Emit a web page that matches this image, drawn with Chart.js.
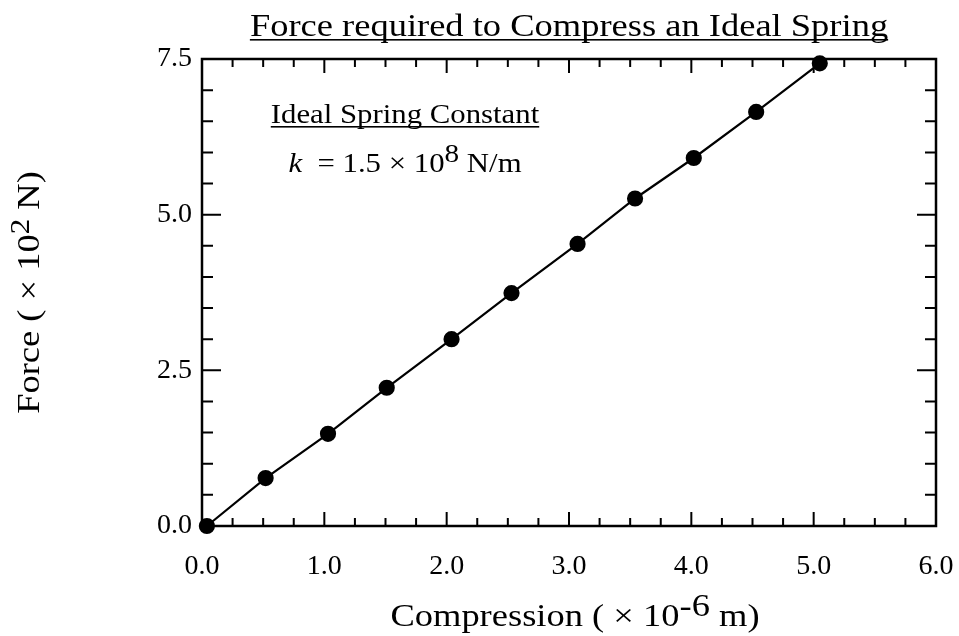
<!DOCTYPE html>
<html>
<head>
<meta charset="utf-8">
<title>Force required to Compress an Ideal Spring</title>
<script src="https://cdn.jsdelivr.net/npm/chart.js@4.4.1/dist/chart.umd.min.js"></script>
<style>
  html, body { margin: 0; padding: 0; background: #fff; }
  #wrap { width: 959px; height: 636px; position: relative; }
  #aquece { position: absolute; left: -9999px; top: 0; font-family: "Liberation Serif"; font-size: 20px; }
</style>
</head>
<body>
<div id="aquece">Force <i>k</i> 0.0</div>
<div id="wrap"><canvas id="chartMola"></canvas></div>
<script>
// Dados (compressão em 1e-6 m, força em 1e2 N)
const compressao = [0.04, 0.52, 1.03, 1.51, 2.04, 2.53, 3.07, 3.54, 4.02, 4.53, 5.05];
const forca      = [0.00, 0.77, 1.48, 2.22, 3.00, 3.74, 4.53, 5.26, 5.91, 6.65, 7.43];

// Marcas dos eixos
const ticksX = [0, 1, 2, 3, 4, 5, 6];
const ticksY = [0, 2.5, 5.0, 7.5];
const passoMenorX = 0.25;
const passoMenorY = 0.5;

const FONTE = '"Liberation Serif", Tinos, Times, serif';
const ESTICA = 1.14; // o texto original é levemente alargado

/**
 * Desenha texto com partes sobrescritas / itálico, centrado em cx
 */
function desenharTexto(ctx, partes, cx, base, tam, sublinhar) {
  ctx.save();
  ctx.translate(cx, base);
  ctx.scale(ESTICA, 1);
  let total = 0;
  const medidas = partes.map(p => {
    const t = tam * (p.escala || 1);
    ctx.font = (p.italico ? 'italic ' : '') + t + 'px ' + FONTE;
    const w = ctx.measureText(p.t).width;
    total += w;
    return { t, w };
  });
  let x = -total / 2;
  ctx.fillStyle = '#000';
  ctx.textBaseline = 'alphabetic';
  ctx.textAlign = 'left';
  partes.forEach((p, i) => {
    ctx.font = (p.italico ? 'italic ' : '') + medidas[i].t + 'px ' + FONTE;
    ctx.fillText(p.t, x, p.sobe ? -tam * p.sobe : 0);
    x += medidas[i].w;
  });
  if (sublinhar) {
    ctx.fillRect(-total / 2, 3, total, 1.6);
  }
  ctx.restore();
}

// Plugin: moldura, marcas internas e textos
const pluginMoldura = {
  id: 'moldura',
  beforeDatasetsDraw(chart) {
    const ctx = chart.ctx;
    const a = chart.chartArea;
    const sx = chart.scales.x;
    const sy = chart.scales.y;

    ctx.save();
    ctx.strokeStyle = '#000';
    ctx.lineCap = 'butt';

    // marcas menores e maiores (para dentro, nos quatro lados)
    ctx.lineWidth = 2;
    ctx.beginPath();
    for (let v = 0; v <= sx.max + 1e-9; v += passoMenorX) {
      const maior = ticksX.some(t => Math.abs(t - v) < 1e-6);
      const px = sx.getPixelForValue(v);
      const len = maior ? 14 : 8;
      ctx.moveTo(px, a.bottom); ctx.lineTo(px, a.bottom - len);
      ctx.moveTo(px, a.top); ctx.lineTo(px, a.top + len);
    }
    for (let v = 0; v <= sy.max + 1e-9; v += passoMenorY) {
      const maior = ticksY.some(t => Math.abs(t - v) < 1e-6);
      const py = sy.getPixelForValue(v);
      const len = maior ? 19 : 11;
      ctx.moveTo(a.left, py); ctx.lineTo(a.left + len, py);
      ctx.moveTo(a.right, py); ctx.lineTo(a.right - len, py);
    }
    ctx.stroke();

    ctx.lineWidth = 2.5;
    ctx.strokeRect(a.left, a.top, a.right - a.left, a.bottom - a.top);
    ctx.restore();
  },
  afterDraw(chart) {
    const ctx = chart.ctx;
    const a = chart.chartArea;
    const meioX = (a.left + a.right) / 2;

    // título
    desenharTexto(ctx, [{ t: 'Force required to Compress an Ideal Spring' }], meioX, 36, 32, true);

    // anotação
    desenharTexto(ctx, [{ t: 'Ideal Spring Constant' }], 405, 123, 27, true);
    desenharTexto(ctx, [
      { t: 'k', italico: true },
      { t: '  = 1.5 × 10' },
      { t: '8', sobe: 0.36, escala: 0.95 },
      { t: ' N/m' }
    ], 405, 172, 27, false);

    // título do eixo x
    desenharTexto(ctx, [
      { t: 'Compression ( × 10' },
      { t: '-6', sobe: 0.3 },
      { t: ' m)' }
    ], meioX + 6, 626, 32, false);

    // título do eixo y (rotacionado)
    ctx.save();
    ctx.translate(39, (a.top + a.bottom) / 2);
    ctx.rotate(-Math.PI / 2);
    desenharTexto(ctx, [
      { t: 'Force ( × 10' },
      { t: '2', sobe: 0.3, escala: 0.85 },
      { t: ' N)' }
    ], 0, 0, 32, false);
    ctx.restore();
  }
};

function criarGrafico() {
  const ctx = document.getElementById('chartMola');

  const pontos = compressao.map((x, i) => ({ x: x, y: forca[i] }));

  new Chart(ctx, {
    type: 'scatter',
    data: {
      datasets: [{
        label: 'Força',
        data: pontos,
        showLine: true,
        clip: false,
        borderColor: '#000',
        borderWidth: 2.2,
        backgroundColor: '#000',
        pointBackgroundColor: '#000',
        pointBorderColor: '#000',
        pointRadius: 7,
        pointHoverRadius: 7,
        tension: 0
      }]
    },
    options: {
      responsive: true,
      maintainAspectRatio: false,
      animation: false,
      layout: { padding: { top: 59, right: 23, left: 0, bottom: 0 } },
      plugins: {
        legend: { display: false },
        title: { display: false },
        tooltip: { enabled: false }
      },
      scales: {
        x: {
          type: 'linear',
          min: 0,
          max: 6,
          afterBuildTicks: s => { s.ticks = ticksX.map(v => ({ value: v })); },
          afterFit: s => { s.height = 110; s.paddingLeft = 0; s.paddingRight = 0; },
          grid: { display: false, drawTicks: false },
          border: { display: false },
          ticks: {
            color: '#000',
            padding: 24,
            maxRotation: 0,
            font: { family: FONTE, size: 28 },
            callback: v => Number(v).toFixed(1)
          }
        },
        y: {
          type: 'linear',
          min: 0,
          max: 7.5,
          afterBuildTicks: s => { s.ticks = ticksY.map(v => ({ value: v })); },
          afterFit: s => { s.width = 202; s.paddingTop = 0; s.paddingBottom = 0; },
          grid: { display: false, drawTicks: false },
          border: { display: false },
          ticks: {
            color: '#000',
            padding: 10,
            font: { family: FONTE, size: 28 },
            callback: v => Number(v).toFixed(1)
          }
        }
      }
    },
    plugins: [pluginMoldura]
  });
}

// Aguarda as fontes locais antes de desenhar
Promise.all([
  document.fonts.load('28px "Liberation Serif"'),
  document.fonts.load('italic 28px "Liberation Serif"')
]).catch(() => {}).then(criarGrafico);
</script>
</body>
</html>
